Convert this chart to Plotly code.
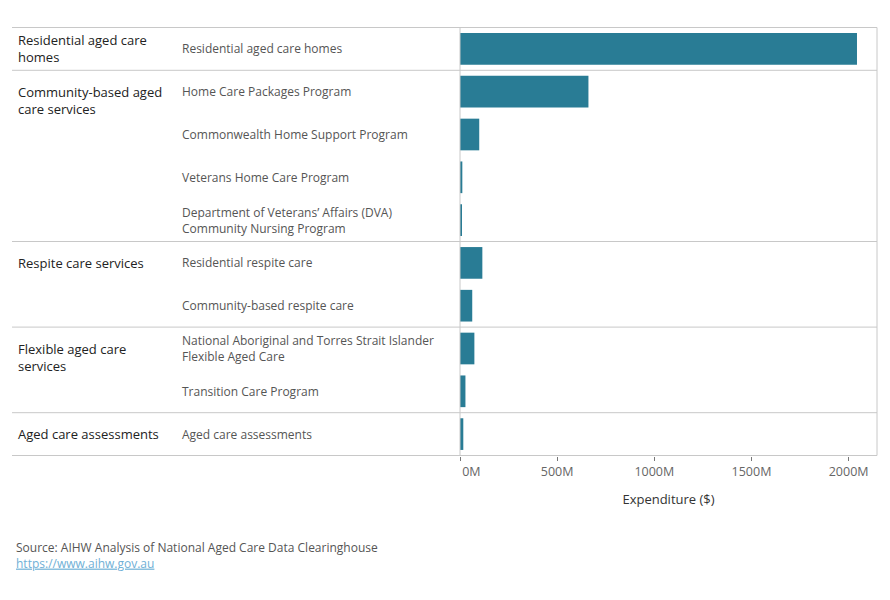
import plotly.graph_objects as go

groups = ["Residential aged care<br>homes", "Community-based aged<br>care services",
          "Respite care services", "Flexible aged care<br>services", "Aged care assessments"]
group_sizes = [1, 4, 2, 2, 1]
programs = [
    "Residential aged care homes",
    "Home Care Packages Program",
    "Commonwealth Home Support Program",
    "Veterans Home Care Program",
    "Department of Veterans\u2019 Affairs (DVA)<br>Community Nursing Program",
    "Residential respite care",
    "Community-based respite care",
    "National Aboriginal and Torres Strait Islander<br>Flexible Aged Care",
    "Transition Care Program",
    "Aged care assessments",
]
expenditure_m = [2043, 661, 99, 12, 6, 115, 63, 74, 28, 17]
tick_values = [0, 500, 1000, 1500, 2000]
tick_labels = ["0M", "500M", "1000M", "1500M", "2000M"]

BAR = "#297c95"
LINE = "#c8c8c8"
FONT = "Open Sans"

fig = go.Figure()
fig.add_trace(go.Bar(
    x=expenditure_m, y=programs, orientation="h",
    marker=dict(color=BAR, line=dict(width=0)), width=0.74,
    hovertemplate="%{x}M<extra></extra>",
))

shapes = []
x_left = -1.0743
bounds = [-0.5]
acc = -0.5
for s in group_sizes:
    acc += s
    bounds.append(acc)
for b in bounds:
    shapes.append(dict(type="line", xref="paper", yref="y", x0=x_left, x1=1, y0=b, y1=b,
                       line=dict(color=LINE, width=1)))
for xv in [0, 1]:
    shapes.append(dict(type="line", xref="paper", yref="y", x0=xv, x1=xv, y0=-0.5, y1=len(programs) - 0.5,
                       line=dict(color=LINE, width=1)))

annotations = []
for i, p in enumerate(programs):
    annotations.append(dict(text=p, xref="paper", yref="y", x=-0.6715, y=i, xanchor="left",
                            yanchor="middle", showarrow=False, align="left",
                            font=dict(family=FONT, size=12, color="#555555")))
start = 0
for g, s in zip(groups, group_sizes):
    lines = g.count("<br>") + 1
    shift = -8.5 * (lines - 1) if s > 1 else 0
    annotations.append(dict(text=g, xref="paper", yref="y", x=-1.0648, y=start, xanchor="left",
                            yanchor="middle", yshift=shift, showarrow=False, align="left",
                            font=dict(family=FONT, size=13, color="#222222")))
    start += s

annotations.append(dict(
    text="Source: AIHW Analysis of National Aged Care Data Clearinghouse<br>"
         "<a href='https://www.aihw.gov.au' style='color:#6fb0d6'><u>https://www.aihw.gov.au</u></a>",
    xref="paper", yref="paper", x=-1.0695, y=-0.1887, xanchor="left", yanchor="top",
    showarrow=False, align="left", font=dict(family=FONT, size=12, color="#555555")))

fig.update_layout(
    width=890, height=600,
    margin=dict(l=460, r=13, t=27, b=144),
    plot_bgcolor="white", paper_bgcolor="white",
    showlegend=False, bargap=0.26,
    shapes=shapes, annotations=annotations,
    font=dict(family=FONT),
    xaxis=dict(range=[0, 2146], tickvals=tick_values,
               ticktext=["\u00a0" * 7 + tick_labels[0]] + tick_labels[1:],
               showgrid=False, zeroline=False, showline=False,
               ticks="outside", ticklen=4, tickcolor="#777777",
               tickfont=dict(family=FONT, size=12.5, color="#666666"),
               title=dict(text="Expenditure ($)", standoff=15,
                          font=dict(family=FONT, size=13, color="#333333")),
               fixedrange=True),
    yaxis=dict(categoryorder="array", categoryarray=programs, autorange="reversed",
               showticklabels=False, showgrid=False, zeroline=False, showline=False,
               range=[len(programs) - 0.5, -0.5], fixedrange=True),
)

fig.write_html("out.html")
